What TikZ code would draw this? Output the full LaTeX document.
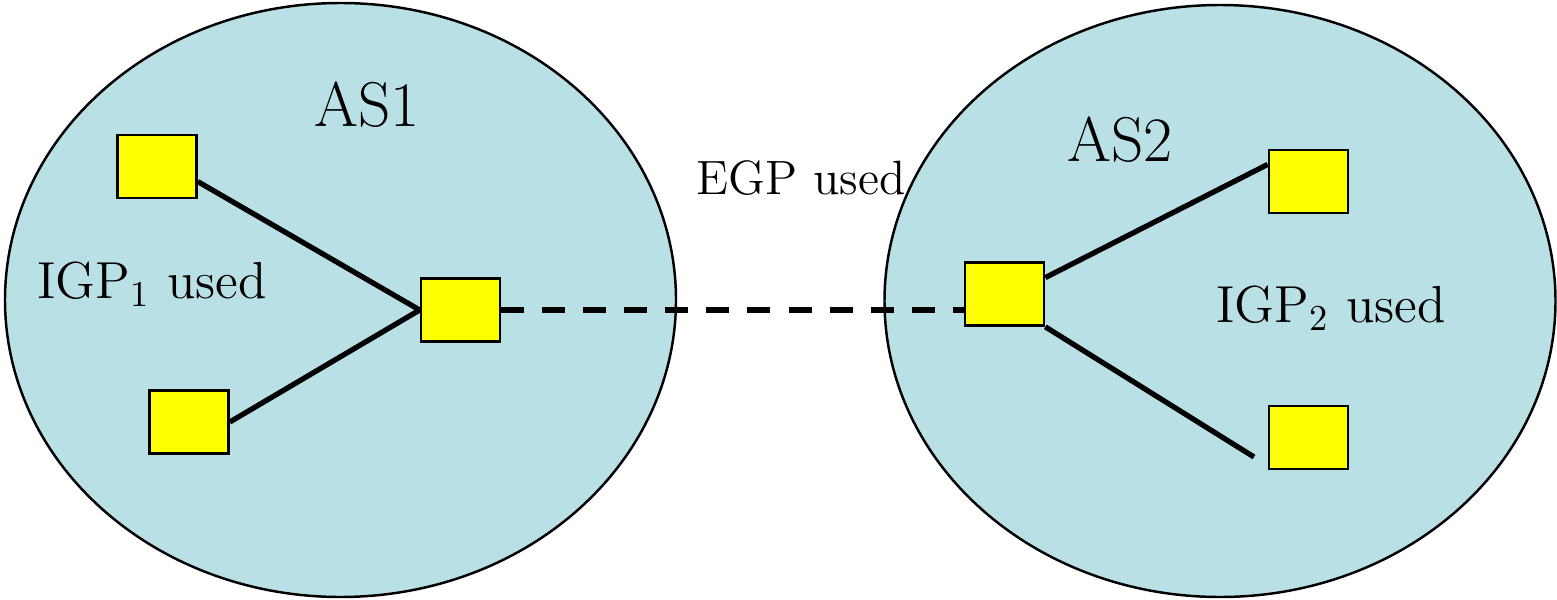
\documentclass[tikz,border=0pt]{standalone}
\usepackage{fontspec}
\usetikzlibrary{calc}
\definecolor{asfill}{RGB}{185,224,228}
\definecolor{rtfill}{RGB}{255,255,0}
\tikzset{
  asarea/.style={draw=black, line width=0.7pt, fill=asfill},
  router/.style={draw=black, line width=0.75pt, fill=rtfill, minimum width=0.79cm, minimum height=0.63cm, inner sep=0pt},
  link/.style={line width=1.5pt},
  eglink/.style={line width=1.5pt, dash pattern=on 0.23cm off 0.18cm},
  big/.style={font=\fontsize{18}{20}\selectfont, inner sep=0pt},
  mid/.style={font=\fontsize{13.7}{15}\selectfont, inner sep=0pt},
  igp/.style={font=\fontsize{14.8}{16}\selectfont, inner sep=0pt}
}
\begin{document}
\begin{tikzpicture}[x=0.01cm, y=-0.01cm]
\useasboundingbox (0,0) rectangle (1557,600);
\draw[asarea] (340.5,300) ellipse [x radius=335.5, y radius=297];
\draw[asarea] (1220,301) ellipse [x radius=335.5, y radius=296];
\node[router] (b1) at (157,166.5) {};
\node[router] (b2) at (189,422) {};
\node[router] (b3) at (460.5,310) {};
\node[router] (b4) at (1004.5,294) {};
\node[router] (b5) at (1308.5,181.5) {};
\node[router] (b6) at (1308.5,437.5) {};
\coordinate (e6) at (1254,457);
\node[big] (as1) at (367,105) {AS1};
\node[big] (as2) at (1120,140) {AS2};
\node[mid] (egp) at (801,178) {EGP used};
\node[igp] (igp1) at (152,284) {IGP\textsubscript{1} used};
\node[igp] (igp2) at (1331,308) {IGP\textsubscript{2} used};
\draw[link] ($(b1.south east)!0.27!(b1.north east)$) -- (b3.west);
\draw[link] (b2.east) -- (b3.west);
\draw[eglink] (b3.east) -- (b3.east -| b4.west);
\draw[link] ($(b4.south east)!0.75!(b4.north east)$) -- ($(b5.south west)!0.76!(b5.north west)$);
\draw[link] (b4.south east) -- (e6);
\end{tikzpicture}
\end{document}
